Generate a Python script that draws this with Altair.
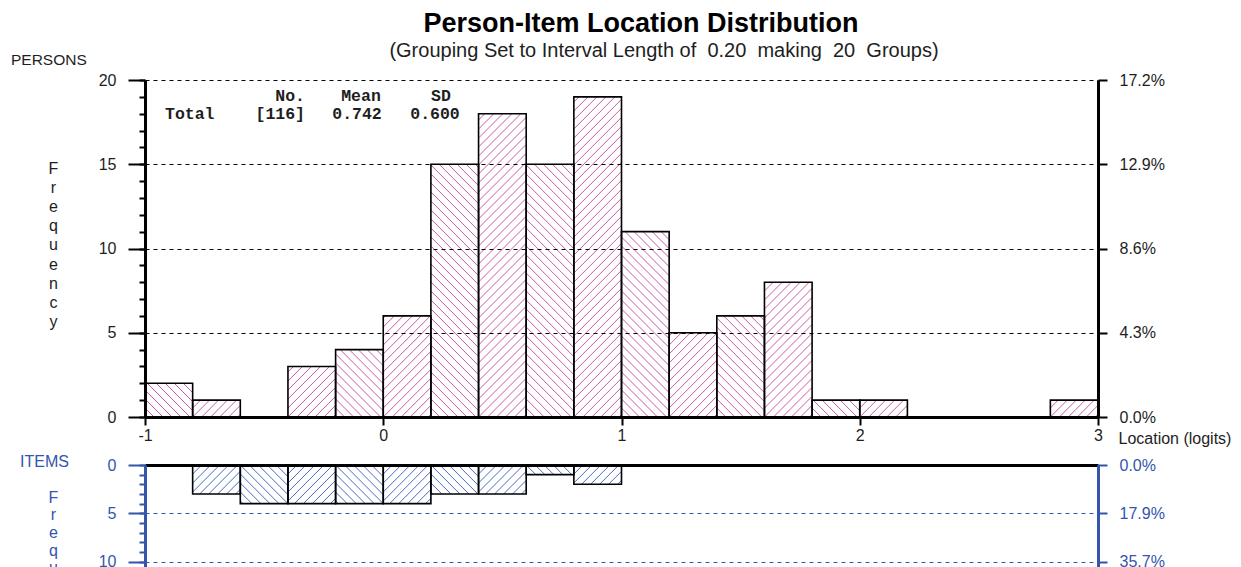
import math
import altair as alt
import pandas as pd

# ---------------- data ----------------
bin_starts = [-1.0, -0.8, -0.6, -0.4, -0.2, 0.0, 0.2, 0.4, 0.6, 0.8,
              1.0, 1.2, 1.4, 1.6, 1.8, 2.0, 2.2, 2.4, 2.6, 2.8]
person_counts = [2, 1, 0, 3, 4, 6, 15, 18, 15, 19, 11, 5, 6, 8, 1, 1, 0, 0, 0, 1]
item_counts = [0, 3, 4, 4, 4, 4, 3, 3, 1, 2, 0, 0, 0, 0, 0, 0, 0, 0, 0, 0]
bin_width = 0.2
logit_ticks = [-1, 0, 1, 2, 3]
freq_ticks = [0, 5, 10, 15, 20]
minor_ticks = list(range(0, 21))
stats_header = ["No.", "Mean", "SD"]
stats_row = ["Total", "[116]", "0.742", "0.600"]
title_text = "Person-Item Location Distribution"
subtitle_text = "(Grouping Set to Interval Length of\u00a0 0.20\u00a0 making\u00a0 20\u00a0 Groups)"

person_total = sum(person_counts)
item_total = sum(item_counts)

# ---------------- layout / style ----------------
W = 953
HP = 337
HI = 193
XDOM = [-1, 3]
YDOM = [0, 20]
FONT = "Liberation Sans"
MONO = "Liberation Mono"
TXT = "#1e1e1e"
PINK = "#c95aa9"
BLUE = "#3356ab"
BLUEH = "#4a69c2"
LBL = 16

kx = W / (XDOM[1] - XDOM[0])


def bars_df(counts):
    rows = []
    for x0, c in zip(bin_starts, counts):
        if c > 0:
            rows.append({"x0": x0, "x1": x0 + bin_width, "count": c, "base": 0})
    return pd.DataFrame(rows)


def hatch_df(counts, ky, flip, s=9.0):
    rows = []
    for i, (x0, h) in enumerate(zip(bin_starts, counts)):
        if h <= 0:
            continue
        w = bin_width * kx
        hh = h * ky
        rising = (i % 2 == 1) != flip
        if rising:
            kmin = math.ceil(-hh / s)
            kmax = math.floor(w / s)
            for k in range(kmin, kmax + 1):
                c = k * s
                ya, yb = max(0.0, -c), min(hh, w - c)
                if yb - ya > 0.5:
                    rows.append({"hx": x0 + (ya + c) / kx, "hy": ya / ky,
                                 "hx2": x0 + (yb + c) / kx, "hy2": yb / ky})
        else:
            kmin = 1
            kmax = math.floor((w + hh) / s)
            for k in range(kmin, kmax + 1):
                c = k * s
                ya, yb = max(0.0, c - w), min(hh, c)
                if yb - ya > 0.5:
                    rows.append({"hx": x0 + (c - ya) / kx, "hy": ya / ky,
                                 "hx2": x0 + (c - yb) / kx, "hy2": yb / ky})
    return pd.DataFrame(rows)


def text_layer(txt, x, y, size=15, color=TXT, align="left", font=FONT, weight="normal"):
    return alt.Chart(pd.DataFrame({"t": [txt]})).mark_text(
        align=align, baseline="middle", font=font, fontSize=size,
        color=color, fontWeight=weight
    ).encode(x=alt.value(x), y=alt.value(y), text="t:N")


def panel(counts, total, height, ky, flip, color, hatch_color, letters_color,
          x_axis, title_y, line_h):
    xs = alt.Scale(domain=XDOM, nice=False, zero=False)
    ys = alt.Scale(domain=YDOM, nice=False, reverse=flip)
    bdf = bars_df(counts)
    hdf = hatch_df(counts, ky, flip)

    major = alt.Axis(
        orient="left", values=freq_ticks, tickSize=17, tickWidth=2, tickColor=color,
        domainColor=color, domainWidth=3, labelFont=FONT, labelFontSize=LBL,
        labelColor=letters_color, labelPadding=12, grid=True, gridColor=color,
        gridDash=[4, 4], gridWidth=1, zindex=1,
        title=list("Frequency"), titleAngle=0, titleFont=FONT, titleFontSize=16,
        titleFontWeight="normal", titleColor=letters_color, titleX=-92, titleY=title_y,
        titleAlign="center", titleBaseline="top", titleLineHeight=line_h,
    )
    minor = alt.Axis(
        orient="left", values=minor_ticks, tickSize=6, tickWidth=2, tickColor=color,
        labels=False, domain=False, grid=False, title=None, zindex=1,
    )
    right = alt.Axis(
        orient="right", values=freq_ticks, tickSize=9, tickWidth=2, tickColor=color,
        domainColor=color, domainWidth=3, labelFont=FONT, labelFontSize=LBL,
        labelColor=letters_color, labelPadding=12, grid=False, title=None, zindex=1,
        labelFlush=False,
        labelExpr=f"format(datum.value / {total} * 100, '.1f') + '%'",
    )

    hatch = alt.Chart(hdf).mark_rule(color=hatch_color, strokeWidth=1).encode(
        x=alt.X("hx:Q", scale=xs, axis=x_axis),
        x2="hx2:Q",
        y=alt.Y("hy:Q", scale=ys, axis=major),
        y2="hy2:Q",
    )
    rects = alt.Chart(bdf).mark_rect(
        fillOpacity=0, stroke="black", strokeWidth=1.6
    ).encode(
        x=alt.X("x0:Q", scale=xs, axis=x_axis),
        x2="x1:Q",
        y=alt.Y("count:Q", scale=ys, axis=minor),
        y2="base:Q",
    )
    ghost = alt.Chart(bdf).mark_point(opacity=0).encode(
        x=alt.X("x0:Q", scale=xs, axis=x_axis),
        y=alt.Y("count:Q", scale=ys, axis=right),
    )
    return [hatch, rects, ghost]


x_axis_p = alt.Axis(
    values=logit_ticks, tickSize=8, tickWidth=2, tickColor="black",
    domainColor="black", domainWidth=3, labelFont=FONT, labelFontSize=LBL,
    labelColor=TXT, labelPadding=2, grid=False, zindex=1, labelFlush=False,
    labelExpr="'' + datum.value",
    title="Location (logits)", titleFont=FONT, titleFontSize=16,
    titleFontWeight="normal", titleColor=TXT, titleX=973, titleY=21,
    titleAlign="left", titleBaseline="middle", titleAngle=0,
)
x_axis_i = alt.Axis(
    orient="top", values=logit_ticks, labels=False, ticks=False,
    domainColor="black", domainWidth=3, grid=False, title=None, zindex=1,
)

p_layers = panel(person_counts, person_total, HP, HP / 20, False, "black", PINK, TXT,
                 x_axis_p, 80, 19.2)
p_texts = [
    text_layer(title_text, 496, -56, size=27, align="center", weight="bold", color="black"),
    text_layer(subtitle_text, 519, -29, size=20, align="center"),
    text_layer("PERSONS", -134, -20, size=15.5),
    text_layer(stats_header[0], 160, 16, size=16.5, font=MONO, align="right", weight="bold"),
    text_layer(stats_header[1], 216, 16, size=16.5, font=MONO, align="center", weight="bold"),
    text_layer(stats_header[2], 296, 16, size=16.5, font=MONO, align="center", weight="bold"),
    text_layer(stats_row[0], 20, 34, size=16.5, font=MONO, align="left", weight="bold"),
    text_layer(stats_row[1], 160, 34, size=16.5, font=MONO, align="right", weight="bold"),
    text_layer(stats_row[2], 212, 34, size=16.5, font=MONO, align="center", weight="bold"),
    text_layer(stats_row[3], 290, 34, size=16.5, font=MONO, align="center", weight="bold"),
]
persons = alt.layer(*p_layers, *p_texts).resolve_axis(y="independent").properties(
    width=W, height=HP
)

i_layers = panel(item_counts, item_total, HI, HI / 20, True, BLUE, BLUEH, BLUE,
                 x_axis_i, 24, 17.7)
i_texts = [text_layer("ITEMS", -125, -3, size=16, color=BLUE)]
items = alt.layer(*i_layers, *i_texts).resolve_axis(y="independent").properties(
    width=W, height=HI
)

chart = alt.vconcat(persons, items, spacing=48, bounds="flush").properties(
    padding={"left": 3, "top": 2, "right": 0, "bottom": 0}
).configure_view(stroke=None)

chart.save("out.html", embed_options={"renderer": "svg", "actions": False})
